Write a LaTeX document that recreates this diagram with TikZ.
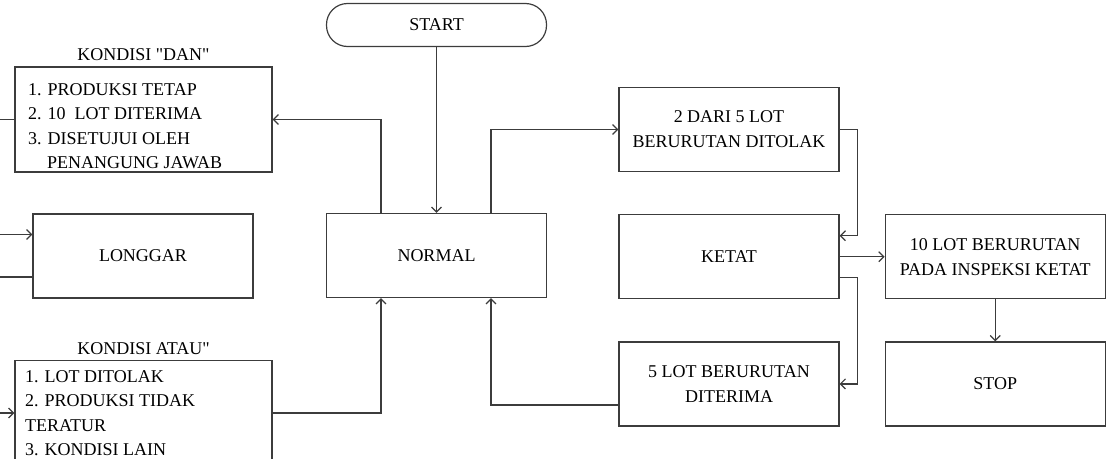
\documentclass[tikz,border=0pt]{standalone}
\usepackage{fontspec}
\setmainfont{Liberation Serif}[Ligatures=TeXOff]
\usepackage{xcolor}
\usetikzlibrary{arrows.meta, positioning}
\definecolor{linegrey}{HTML}{3C3C3C}

\begin{document}
\begin{tikzpicture}[x=1pt,y=-1pt,
  node distance=42pt and 45pt,
  box/.style={rectangle,draw=linegrey,line width=1.2pt,minimum width=220pt,minimum height=84pt,
    inner sep=0pt,align=center,font=\fontsize{18}{25}\selectfont},
  cond/.style={rectangle,draw=linegrey,line width=1.2pt,minimum width=257pt,minimum height=105pt,inner sep=0pt},
  list/.style={anchor=north west,inner sep=0pt,align=left,font=\fontsize{18}{24.5}\selectfont},
  title/.style={inner sep=0pt,font=\fontsize{18}{22}\selectfont},
  arr/.style={-{Straight Barb[length=5pt,width=10pt]},line width=1.2pt,color=linegrey},
  ln/.style={line width=1.2pt,color=linegrey}]
  \useasboundingbox (0,0) rectangle (1113,458);
  % middle column
  \node[box,rounded corners=21pt,minimum height=43pt] (start) at (436.5,25) {START};
  \node[box] (normal) at (436.5,255.5) {NORMAL};
  % left column
  \node[cond] (dan) at (143.5,119.5) {};
  \node[title,above=6pt of dan] (dantitle) {KONDISI "DAN"};
  \node[list] (danlist) at (28,83) {1. PRODUKSI TETAP\\2. 10~ LOT DITERIMA\\3. DISETUJUI OLEH\\\hspace*{19pt}PENANGUNG JAWAB};
  \node[box] (longgar) at (143,256) {LONGGAR};
  \node[cond] (atau) at (143.5,413) {};
  \node[title,above=5pt of atau] (atautitle) {KONDISI ATAU"};
  \node[list] (ataulist) at (25,370) {1. LOT DITOLAK\\2. PRODUKSI TIDAK\\TERATUR\\3. KONDISI LAIN};
  % right columns
  \node[box] (dari) at (729,129.5) {2 DARI 5 LOT\\BERURUTAN DITOLAK};
  \node[box,below=of dari] (ketat) {KETAT};
  \node[box,below=of ketat] (lot5) {5 LOT BERURUTAN\\DITERIMA};
  \node[box,right=of ketat] (lot10) {10 LOT BERURUTAN\\PADA INSPEKSI KETAT};
  \node[box,below=of lot10] (stop) {STOP};
  % free ends at the left border
  \coordinate (fromdan) at (0,119.5);
  \coordinate (tolong) at (0,234.5);
  \coordinate (fromlong) at (0,277);
  \coordinate (toatau) at (0,413);
  % connectors
  \draw[arr] (start) -- (normal);
  \draw[arr] ([xshift=-55.5pt]normal.north) |- (dan.east);
  \draw[arr] ([xshift=54.5pt]normal.north) |- (dari.west);
  \draw[arr] (dari.east) -- ++(18,0) |- ([yshift=21pt]ketat.east);
  \draw[arr] (ketat) -- (lot10);
  \draw[arr] ([yshift=-21pt]ketat.east) -- ++(18,0) |- (lot5.east);
  \draw[arr] ([yshift=-21pt]lot5.west) -| ([xshift=54.5pt]normal.south);
  \draw[arr] (atau.east) -| ([xshift=-55.5pt]normal.south);
  \draw[arr] (lot10) -- (stop);
  \draw[ln] (fromdan) -- (dan.west);
  \draw[arr] (tolong) -- (tolong -| longgar.west);
  \draw[ln] (fromlong) -- (fromlong -| longgar.west);
  \draw[arr] (toatau) -- (atau.west);
\end{tikzpicture}
\end{document}
